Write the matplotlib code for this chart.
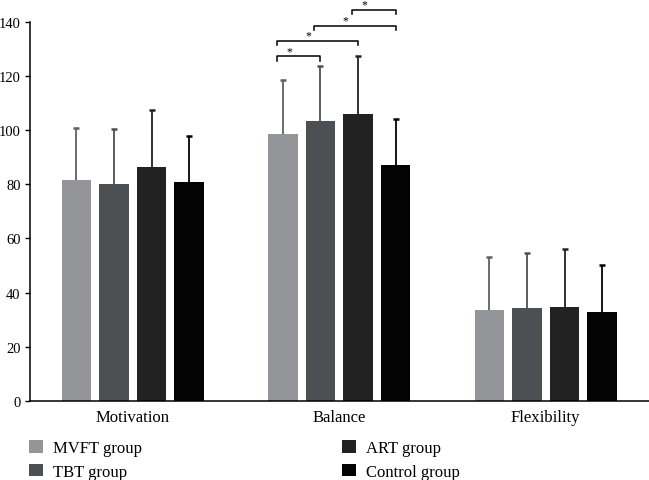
import matplotlib
matplotlib.use('Agg')
import matplotlib.pyplot as plt
import numpy as np

plt.rcParams['font.family'] = ['Liberation Serif', 'DejaVu Serif']

categories = ['Motivation', 'Balance', 'Flexibility']
groups = ['MVFT group', 'TBT group', 'ART group', 'Control group']

# mean and upper error (mean + SD)
means = {
    'MVFT group':    [81.4, 98.6, 33.6],
    'TBT group':     [79.9, 103.4, 34.4],
    'ART group':     [86.2, 105.9, 34.8],
    'Control group': [80.7, 87.0, 32.8],
}
sds = {
    'MVFT group':    [19.4, 19.7, 19.4],
    'TBT group':     [20.3, 20.3, 20.3],
    'ART group':     [21.3, 21.2, 21.3],
    'Control group': [17.2, 17.0, 17.2],
}
# significant pairs within Balance (group indices)
sig_pairs = [(0, 1), (0, 2), (1, 3), (2, 3)]

colors = ['#939598', '#4d5053', '#222223', '#030303']
ecolors = ['#5f6062', '#4d5053', '#222223', '#030303']

fig = plt.figure(figsize=(6.49, 4.81), dpi=100)
ax = fig.add_axes([0.0455, 0.1642, 0.9545, 0.7890])

x = np.arange(len(categories))
width = 0.143
step = 0.182
offsets = (np.arange(len(groups)) - 1.5) * step

for i, g in enumerate(groups):
    xp = x + offsets[i]
    m = np.array(means[g])
    top = m + np.array(sds[g])
    ax.bar(xp, m, width, color=colors[i], label=g)
    # one-sided error bars (upper only)
    ax.vlines(xp, m, top, color=ecolors[i], lw=1.3)
    ax.plot(xp, top, ls='none', marker='_', ms=5, mew=1.8, color=ecolors[i])

# significance brackets over Balance
bx = x[1] + offsets
for k, (a, b) in enumerate(sig_pairs):
    y = 127.1 + 5.7 * k
    x1 = bx[a] - 0.03
    x2 = bx[b] + 0.0
    ax.plot([x1, x1, x2, x2], [y - 1.6, y, y, y - 1.6], color='black', lw=1.1,
            clip_on=False)
    ax.text((x1 + x2) / 2 - 0.045, y + 2.0, '*', ha='center', va='center',
            fontsize=8.5, clip_on=False)

ax.set_xlim(-0.5, 2.5)
ax.set_ylim(0, 140)
ax.set_yticks(np.arange(0, 141, 20))
ax.set_xticks(x)
ax.set_xticklabels(categories)
ax.tick_params(axis='x', length=0, pad=6, labelsize=12)
ax.tick_params(axis='y', direction='out', length=3.5, width=1, pad=3, labelsize=10.5)
ax.spines['top'].set_visible(False)
ax.spines['right'].set_visible(False)
for s in ['left', 'bottom']:
    ax.spines[s].set_linewidth(1.1)

fig.legend(loc='center left', bbox_to_anchor=(0.045, 0.042), ncol=2,
           frameon=False, fontsize=12, handlelength=0.8, handleheight=0.8,
           handletextpad=0.6, labelspacing=0.45, columnspacing=12.05,
           borderaxespad=0, borderpad=0)

fig.savefig('out.png', dpi=100)
